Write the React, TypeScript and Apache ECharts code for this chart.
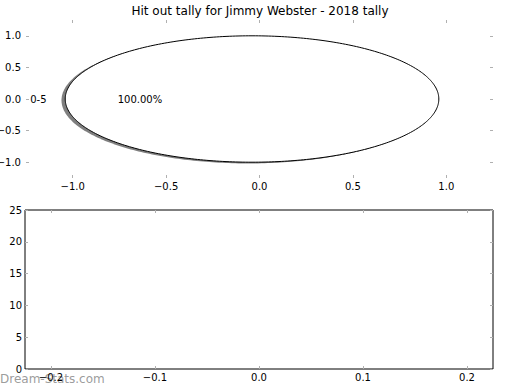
import React, { useEffect, useRef } from "react";
import * as echarts from "echarts";

const chartTitle = "Hit out tally for Jimmy Webster - 2018 tally";
const pieCategories = ["0-5"];
const pieValues = [1];
const pieExplode = [0.04];
const pieTicks = [-1.0, -0.5, 0.0, 0.5, 1.0];
const barXTicks = [-0.2, -0.1, 0.0, 0.1, 0.2];
const barYTicks = [0, 5, 10, 15, 20, 25];
const watermark = "Dream-Stats.com";

const FONT = "DejaVu Sans";
const TICK = "#b0b0b0";

const fmt1 = (v: number) => (v < 0 ? "\u2212" : "") + Math.abs(v).toFixed(1);

export default function App() {
  const ref = useRef<HTMLDivElement>(null);
  useEffect(() => {
    if (!ref.current) return;
    const chart = echarts.init(ref.current, undefined, { renderer: "svg" });
    const total = pieValues.reduce((a, b) => a + b, 0);
    const starts: number[] = [];
    let acc = 0;
    pieValues.forEach((v) => {
      starts.push(acc);
      acc += v;
    });

    const renderItem = (params: any, api: any) => {
      const i = params.dataIndex;
      const v = pieValues[i];
      const t1 = (starts[i] / total) * 2 * Math.PI;
      const t2 = ((starts[i] + v) / total) * 2 * Math.PI;
      const mid = (t1 + t2) / 2;
      const ex = pieExplode[i] || 0;
      const cx = api.value(0) + ex * Math.cos(mid);
      const cy = api.value(1) + ex * Math.sin(mid);
      const full = Math.abs(t2 - t1 - 2 * Math.PI) < 1e-9;
      const makePts = (ox: number, oy: number) => {
        const pts: number[][] = [];
        if (!full) pts.push(api.coord([cx + ox, cy + oy]));
        const n = 360;
        for (let k = 0; k <= n; k++) {
          const a = t1 + ((t2 - t1) * k) / n;
          pts.push(api.coord([cx + ox + Math.cos(a), cy + oy + Math.sin(a)]));
        }
        return pts;
      };
      const lab = api.coord([cx + 1.1 * Math.cos(mid), cy + 1.1 * Math.sin(mid)]);
      const pct = api.coord([cx + 0.6 * Math.cos(mid), cy + 0.6 * Math.sin(mid)]);
      const pctText = ((v / total) * 100).toFixed(2) + "%";
      return {
        type: "group",
        children: [
          {
            type: "polygon",
            shape: { points: makePts(-0.02, -0.02) },
            style: { fill: "rgba(0,0,0,0.5)", stroke: "none" },
          },
          {
            type: "polygon",
            shape: { points: makePts(0, 0) },
            style: { fill: "#ffffff", stroke: "#000000", lineWidth: 1 },
          },
          {
            type: "text",
            x: lab[0],
            y: lab[1],
            style: {
              text: pieCategories[i],
              align: Math.cos(mid) < 0 ? "right" : "left",
              verticalAlign: "middle",
              fontSize: 10,
              fontFamily: FONT,
              fill: "#000",
            },
          },
          {
            type: "text",
            x: pct[0],
            y: pct[1],
            style: {
              text: pctText,
              align: "center",
              verticalAlign: "middle",
              fontSize: 10,
              fontFamily: FONT,
              fill: "#000",
            },
          },
        ],
      };
    };

    const tickStyle = { show: true, inside: true, length: 3, lineStyle: { color: TICK, width: 1 } };
    const labelStyle = { color: "#000", fontSize: 10, fontFamily: FONT };
    const noLine = { show: false, onZero: false };

    chart.setOption({
      animation: false,
      title: {
        text: chartTitle,
        left: "center",
        top: 5,
        padding: 0,
        textStyle: { fontSize: 12, fontWeight: "normal", color: "#000", fontFamily: FONT },
      },
      grid: [
        { left: 26, top: 20, width: 467, height: 158, show: false, containLabel: false, outerBoundsMode: "none" },
        { left: 25, top: 210, width: 468, height: 159, show: true, borderColor: "#000", borderWidth: 1, backgroundColor: "transparent", containLabel: false, outerBoundsMode: "none" },
      ],
      xAxis: [
        {
          type: "value", gridIndex: 0, position: "bottom", min: -1.25, max: 1.25,
          axisLine: noLine, splitLine: { show: false },
          axisTick: { ...tickStyle, customValues: pieTicks },
          axisLabel: { ...labelStyle, margin: 3, customValues: pieTicks, formatter: fmt1 },
        },
        {
          type: "value", gridIndex: 0, position: "top", min: -1.25, max: 1.25,
          axisLine: noLine, splitLine: { show: false },
          axisTick: { ...tickStyle, customValues: pieTicks },
          axisLabel: { show: false },
        },
        {
          type: "value", gridIndex: 1, position: "bottom", min: -0.225, max: 0.225,
          axisLine: noLine, splitLine: { show: false },
          axisTick: { ...tickStyle, customValues: barXTicks },
          axisLabel: { ...labelStyle, margin: 3, customValues: barXTicks, formatter: fmt1 },
        },
        {
          type: "value", gridIndex: 1, position: "top", min: -0.225, max: 0.225,
          axisLine: noLine, splitLine: { show: false },
          axisTick: { ...tickStyle, customValues: barXTicks },
          axisLabel: { show: false },
        },
      ],
      yAxis: [
        {
          type: "value", gridIndex: 0, position: "left", min: -1.25, max: 1.25,
          axisLine: noLine, splitLine: { show: false },
          axisTick: { ...tickStyle, customValues: pieTicks },
          axisLabel: { ...labelStyle, margin: 5, customValues: pieTicks, formatter: fmt1 },
        },
        {
          type: "value", gridIndex: 0, position: "right", min: -1.25, max: 1.25,
          axisLine: noLine, splitLine: { show: false },
          axisTick: { ...tickStyle, customValues: pieTicks },
          axisLabel: { show: false },
        },
        {
          type: "value", gridIndex: 1, position: "left", min: 0, max: 25,
          axisLine: noLine, splitLine: { show: false },
          axisTick: { ...tickStyle, customValues: barYTicks },
          axisLabel: { ...labelStyle, margin: 3, customValues: barYTicks, formatter: (v: number) => String(v) },
        },
        {
          type: "value", gridIndex: 1, position: "right", min: 0, max: 25,
          axisLine: noLine, splitLine: { show: false },
          axisTick: { ...tickStyle, customValues: barYTicks },
          axisLabel: { show: false },
        },
      ],
      series: [
        {
          type: "custom",
          coordinateSystem: "cartesian2d",
          xAxisIndex: 0,
          yAxisIndex: 0,
          renderItem,
          encode: { x: 0, y: 1 },
          data: pieValues.map((v, i) => ({ name: pieCategories[i], value: [0, 0, v] })),
          clip: false,
        },
        {
          type: "bar",
          xAxisIndex: 2,
          yAxisIndex: 2,
          data: [],
        },
      ],
      graphic: [
        {
          type: "text",
          left: 0,
          top: 373,
          z: 0,
          style: { text: watermark, fontSize: 12, fontFamily: FONT, fill: "rgba(130,130,130,0.8)" },
        },
      ],
    });
    return () => chart.dispose();
  }, []);
  return <div ref={ref} style={{ width: 520, height: 390, position: "absolute", left: 0, top: 0 }} />;
}
